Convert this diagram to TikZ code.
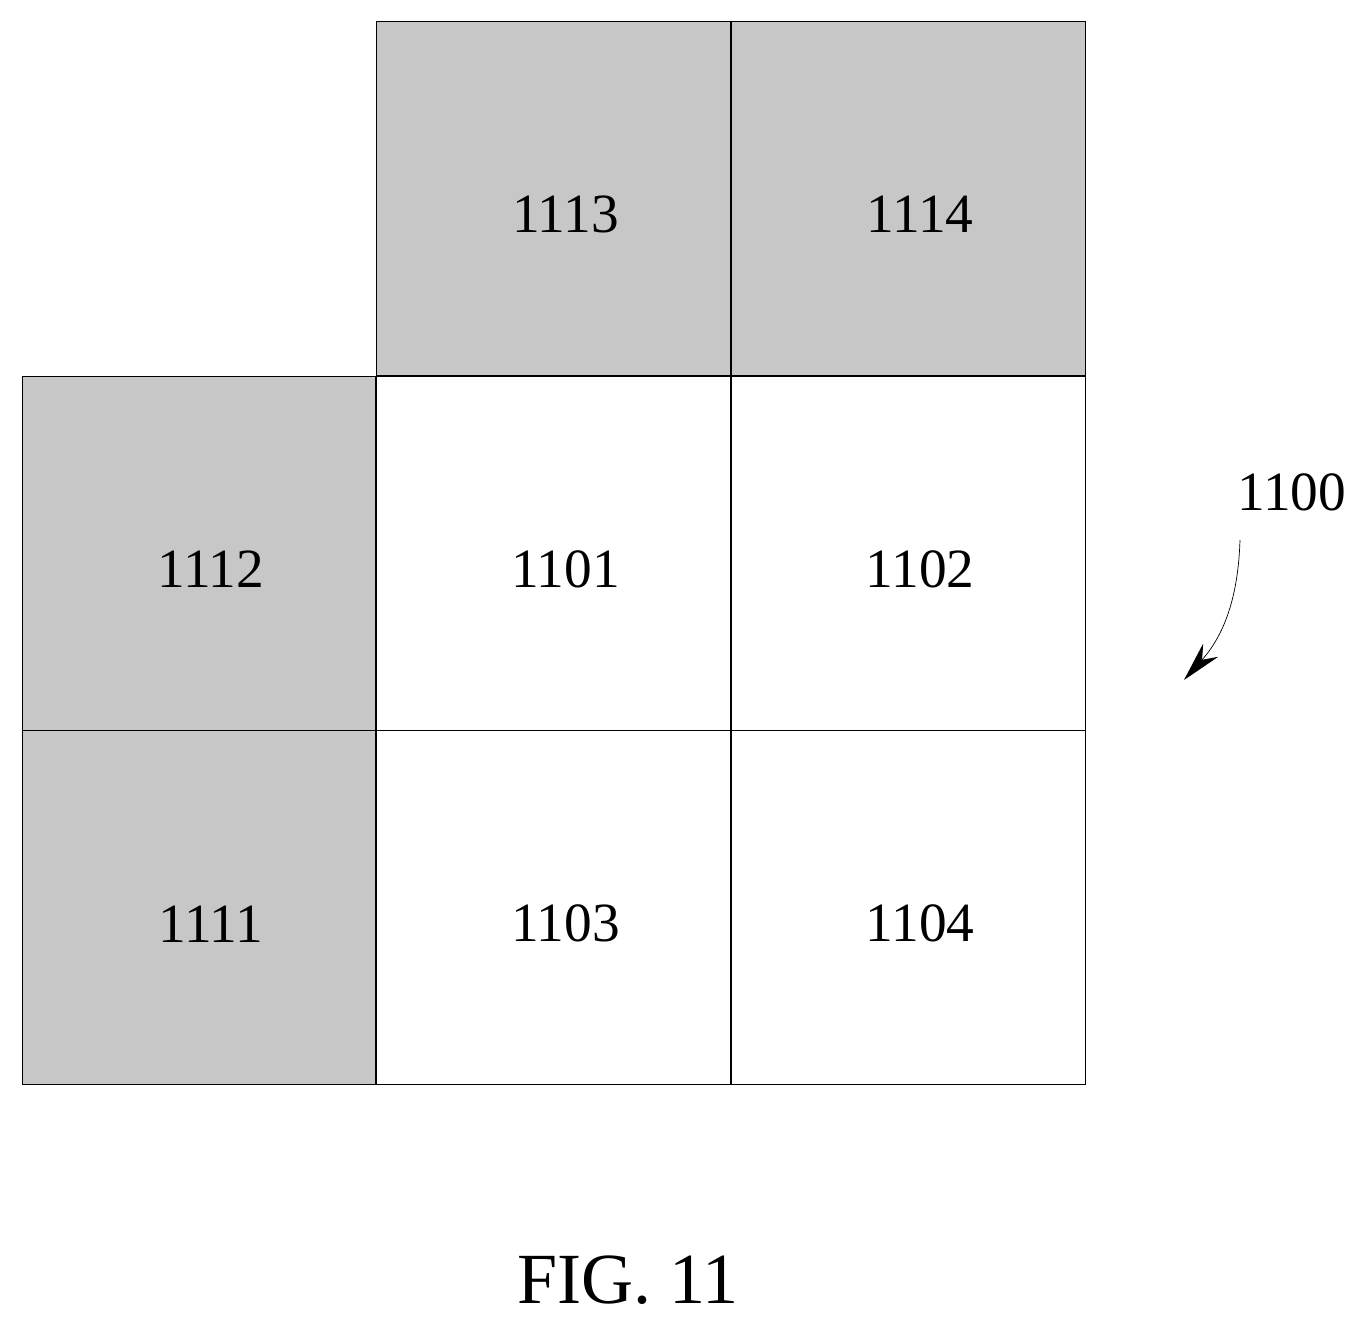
\documentclass[tikz,border=0pt]{standalone}
\usepackage{fontspec}
\setmainfont{Liberation Serif}
\usetikzlibrary{arrows.meta,positioning}
\tikzset{cell/.style={draw, thin, minimum size=7.08cm, inner sep=0pt,
  label={[xshift=0.24cm, yshift=-0.32cm, font=\fontsize{31.5}{31.5}\selectfont]center:#1}}}
\tikzset{shade/.style={cell=#1, fill=black!22}}
\tikzset{plain/.style={cell=#1, fill=white}}
\begin{document}
\begin{tikzpicture}[x=0.02cm, y=-0.02cm]
  \useasboundingbox (0,0) rectangle (1367,1324);
  %%
  \node (1113) at (553.5,198.5) [shade=1113] {};
  \node (1114) [shade=1114, right=0pt of 1113] {};
  \node (1101) [plain=1101, below=0pt of 1113] {};
  \node (1102) [plain=1102, right=0pt of 1101] {};
  \node (1112) [shade=1112, left=0pt of 1101] {};
  \node (1103) [plain=1103, below=0pt of 1101] {};
  \node (1104) [plain=1104, right=0pt of 1103] {};
  \node (1111) [shade=1111, left=0pt of 1103] {};
  %%
  \node (1100) at (1292,492) [font=\fontsize{31.5}{31.5}\selectfont] {1100};
  \coordinate (tip) at (1184,680);
  \draw [thin, -{Stealth[length=8mm, width=4mm]}] (1240,540) to [bend left=20] (tip);
  %%
  \node (fig) at (628,1280) [font=\fontsize{41}{41}\selectfont] {FIG.\ 11};
\end{tikzpicture}
\end{document}
